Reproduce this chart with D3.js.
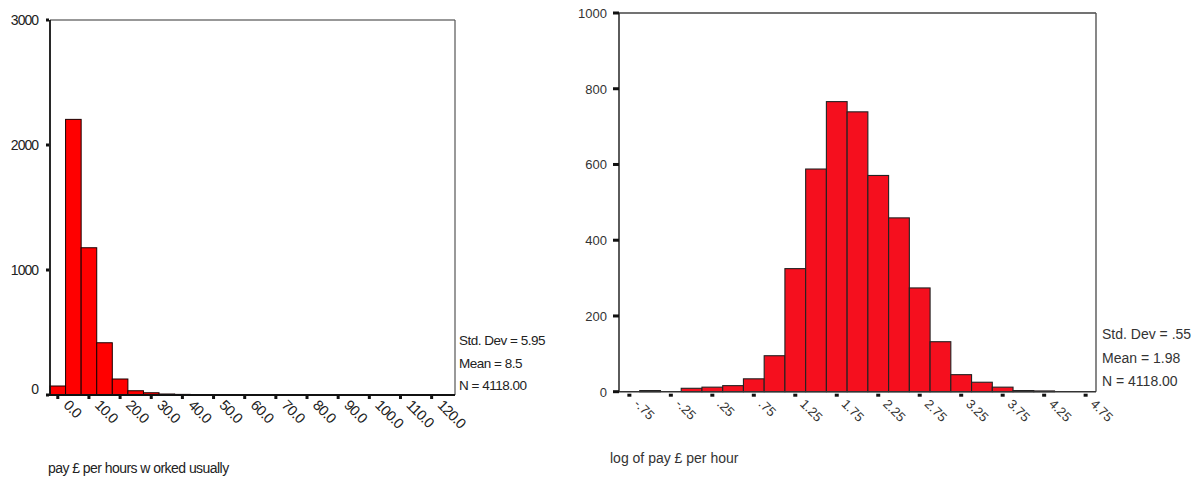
<!DOCTYPE html>
<html>
<head>
<meta charset="utf-8">
<script src="https://cdn.jsdelivr.net/npm/d3@7"></script>
<style>
  html, body { margin: 0; padding: 0; background: #fff; }
  svg { display: block; }
  text { font-family: "Liberation Sans", Arial, sans-serif; }
</style>
</head>
<body>
<svg id="chart" width="1202" height="481"></svg>
<script>
// ---------- Left histogram: pay £ per hour ----------
const payMidpoints = [0, 5, 10, 15, 20, 25, 30, 35, 40, 45, 50, 55, 60, 65, 70, 75, 80, 85, 90, 95, 100, 105, 110, 115, 120, 125];
const payCounts    = [72, 2205, 1178, 418, 128, 34, 18, 8, 5, 4, 3, 2, 2, 1, 1, 1, 0, 0, 0, 0, 0, 0, 0, 0, 0, 0];
const payXTicks    = [0, 10, 20, 30, 40, 50, 60, 70, 80, 90, 100, 110, 120];
const payXLabels   = ["0.0", "10.0", "20.0", "30.0", "40.0", "50.0", "60.0", "70.0", "80.0", "90.0", "100.0", "110.0", "120.0"];
const payYTicks    = [0, 1000, 2000, 3000];
const payStats     = ["Std. Dev = 5.95", "Mean = 8.5", "N = 4118.00"];
const payTitle     = "pay £ per hours w orked usually";

// ---------- Right histogram: log of pay £ per hour ----------
const logMidpoints = [-0.75, -0.5, -0.25, 0, 0.25, 0.5, 0.75, 1, 1.25, 1.5, 1.75, 2, 2.25, 2.5, 2.75, 3, 3.25, 3.5, 3.75, 4, 4.25, 4.5, 4.75];
const logCounts    = [0, 3, 0, 9, 12, 16, 34, 95, 325, 588, 766, 739, 571, 459, 274, 132, 45, 25, 12, 3, 2, 0, 0];
const logXTicks    = [-0.75, -0.25, 0.25, 0.75, 1.25, 1.75, 2.25, 2.75, 3.25, 3.75, 4.25, 4.75];
const logXLabels   = ["-.75", "-.25", ".25", ".75", "1.25", "1.75", "2.25", "2.75", "3.25", "3.75", "4.25", "4.75"];
const logYTicks    = [0, 200, 400, 600, 800, 1000];
const logStats     = ["Std. Dev = .55", "Mean = 1.98", "N = 4118.00"];
const logTitle     = "log of pay £ per hour";

const svg = d3.select("#chart");

// ===== LEFT =====
(function () {
  const L = 50, R = 455, T = 20, B = 395;
  const binW = 5;
  const x = d3.scaleLinear().domain([-2.5, 127.5]).range([L, R]);
  const y = d3.scaleLinear().domain([0, 3000]).range([B, T]);
  const g = svg.append("g");

  g.selectAll("rect.bar").data(payMidpoints.map((m, i) => ({ m, c: payCounts[i] })).filter(d => d.c > 0))
    .enter().append("rect")
    .attr("x", d => x(d.m - binW / 2))
    .attr("width", d => x(d.m + binW / 2) - x(d.m - binW / 2))
    .attr("y", d => y(d.c))
    .attr("height", d => B - y(d.c))
    .attr("fill", "#ff0000")
    .attr("stroke", "#1a0000")
    .attr("stroke-width", 1);

  g.append("line").attr("x1", L).attr("x2", R).attr("y1", T).attr("y2", T).attr("stroke", "#333").attr("stroke-width", 1.2);
  g.append("line").attr("x1", R).attr("x2", R).attr("y1", T).attr("y2", B).attr("stroke", "#555").attr("stroke-width", 1.2);
  g.append("line").attr("x1", L).attr("x2", L).attr("y1", T).attr("y2", B).attr("stroke", "#111").attr("stroke-width", 1.8);
  g.append("line").attr("x1", L - 3).attr("x2", R).attr("y1", B).attr("y2", B).attr("stroke", "#111").attr("stroke-width", 1.8);

  payYTicks.forEach(v => {
    g.append("rect").attr("x", L - 4).attr("y", y(v) - 1.5).attr("width", 3).attr("height", 3).attr("fill", "#111");
    g.append("text").attr("x", 38).attr("y", y(v) + (v === 0 ? -1 : 5))
      .attr("text-anchor", "end").attr("font-size", 14).attr("letter-spacing", -1)
      .attr("fill", "#222").text(String(v));
  });

  payXTicks.forEach((v, i) => {
    g.append("rect").attr("x", x(v) - 1.5).attr("y", B + 1).attr("width", 3).attr("height", 3).attr("fill", "#111");
    g.append("text")
      .attr("transform", `translate(${x(v) + 5},${B + 11}) rotate(45)`)
      .attr("font-size", 14.5).attr("letter-spacing", -0.7).attr("fill", "#222")
      .text(payXLabels[i]);
  });

  payStats.forEach((s, i) => {
    g.append("text").attr("x", 459).attr("y", 345 + i * 22.7)
      .attr("font-size", 13.5).attr("letter-spacing", -0.5).attr("fill", "#222").text(s);
  });

  g.append("text").attr("x", 48).attr("y", 473).attr("font-size", 14).attr("letter-spacing", -0.55)
    .attr("fill", "#222").text(payTitle);
})();

// ===== RIGHT =====
(function () {
  const L = 619, R = 1096, T = 13, B = 391.7;
  const binW = 0.25;
  const x = d3.scaleLinear().domain([-0.875, 4.875]).range([L, R]);
  const y = d3.scaleLinear().domain([0, 1000]).range([B, T]);
  const g = svg.append("g");

  g.selectAll("rect.bar").data(logMidpoints.map((m, i) => ({ m, c: logCounts[i] })).filter(d => d.c > 0))
    .enter().append("rect")
    .attr("x", d => x(d.m - binW / 2))
    .attr("width", d => x(d.m + binW / 2) - x(d.m - binW / 2))
    .attr("y", d => y(d.c))
    .attr("height", d => B - y(d.c))
    .attr("fill", "#f50f1e")
    .attr("stroke", "#222")
    .attr("stroke-width", 1.1);

  g.append("line").attr("x1", L).attr("x2", R).attr("y1", T).attr("y2", T).attr("stroke", "#444").attr("stroke-width", 1.6);
  g.append("line").attr("x1", R).attr("x2", R).attr("y1", T).attr("y2", B).attr("stroke", "#555").attr("stroke-width", 1.4);
  g.append("line").attr("x1", L).attr("x2", L).attr("y1", T).attr("y2", B).attr("stroke", "#333").attr("stroke-width", 1.6);
  g.append("line").attr("x1", L - 4).attr("x2", R).attr("y1", B).attr("y2", B).attr("stroke", "#333").attr("stroke-width", 1.6);

  logYTicks.forEach(v => {
    g.append("rect").attr("x", L - 6).attr("y", y(v) - 1.5).attr("width", 6).attr("height", 3).attr("fill", "#111");
    g.append("text").attr("x", 607).attr("y", y(v) + 5)
      .attr("text-anchor", "end").attr("font-size", 13).attr("fill", "#333").text(String(v));
  });

  logXTicks.forEach((v, i) => {
    g.append("rect").attr("x", x(v) - 2).attr("y", B + 2).attr("width", 4).attr("height", 3).attr("fill", "#111");
    g.append("text")
      .attr("transform", `translate(${x(v) + 4},${B + 13}) rotate(45)`)
      .attr("font-size", 13).attr("fill", "#333")
      .text(logXLabels[i]);
  });

  logStats.forEach((s, i) => {
    g.append("text").attr("x", 1102).attr("y", 339 + i * 23.5)
      .attr("font-size", 14).attr("fill", "#333").text(s);
  });

  g.append("text").attr("x", 610).attr("y", 463).attr("font-size", 14).attr("fill", "#333").text(logTitle);
})();
</script>
</body>
</html>
